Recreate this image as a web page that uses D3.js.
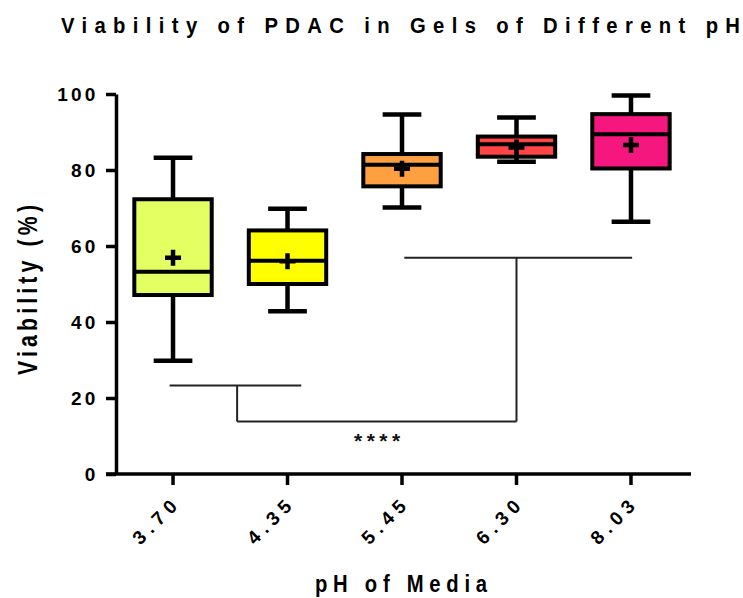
<!DOCTYPE html>
<html>
<head>
<meta charset="utf-8">
<script src="https://cdn.jsdelivr.net/npm/d3@7"></script>
<style>
  html, body { margin: 0; padding: 0; background: #fff; }
  svg { display: block; font-family: "Liberation Sans", Arial, sans-serif; font-weight: bold; }
</style>
</head>
<body>
<svg id="chart" width="743" height="598"></svg>
<script>
// pH groups and their box-plot summaries (viability, %)
const categories = ["3.70", "4.35", "5.45", "6.30", "8.03"];
const whiskerLow  = [29.8, 42.8, 70.1, 82.2, 66.4];
const quartile1   = [47.1, 50.0, 75.7, 83.5, 80.4];
const medians     = [53.2, 56.1, 81.4, 86.8, 89.4];
const quartile3   = [72.3, 64.1, 84.2, 88.8, 94.7];
const whiskerHigh = [83.2, 69.8, 94.6, 93.8, 99.6];
const means       = [56.9, 56.0, 80.3, 85.9, 86.6];
const fills       = ["#E4FF62", "#FFFF00", "#FFA040", "#FF4545", "#F5177E"];
const yTicks      = [0, 20, 40, 60, 80, 100];

// significance bracket: two group bars (positions in category-index units) joined below
const sigBars  = [
  { x0: -0.03, x1: 1.12, drop: 0.56, y: 23.3 },
  { x0: 2.02,  x1: 4.01, drop: 3.0,  y: 56.9 }
];
const sigBridgeY = 13.8;
const sigLabel = "****";

const svg = d3.select("#chart");

const x = d3.scaleBand().domain(categories).range([116, 688])
  .paddingInner(0.324).paddingOuter(0.16);
const y = d3.scaleLinear().domain([0, 100]).range([474, 94]);
const cx = d => x(d) + x.bandwidth() / 2;
const xi = d3.scaleLinear().domain([0, categories.length - 1])
  .range([cx(categories[0]), cx(categories[categories.length - 1])]);

const boxes = categories.map((c, i) => ({
  c, lo: whiskerLow[i], q1: quartile1[i], med: medians[i],
  q3: quartile3[i], hi: whiskerHigh[i], mean: means[i], fill: fills[i]
}));

// axes
const yAxis = svg.append("g").attr("transform", "translate(116,0)")
  .call(d3.axisLeft(y).tickValues(yTicks).tickSize(10).tickSizeOuter(0).tickPadding(0));
yAxis.select(".domain").attr("stroke", "#000").attr("stroke-width", 3.5);
yAxis.selectAll(".tick line").attr("stroke", "#000").attr("stroke-width", 3.5);
yAxis.selectAll(".tick text")
  .attr("x", -17.5).attr("dy", "0.36em")
  .attr("font-size", 19).attr("font-weight", "bold").attr("font-family", "Liberation Sans, Arial, sans-serif")
  .attr("letter-spacing", 3.2).attr("fill", "#000");

const xAxis = svg.append("g").attr("transform", "translate(0,474)")
  .call(d3.axisBottom(x).tickSize(11).tickSizeOuter(0));
xAxis.select(".domain").remove();
xAxis.selectAll(".tick line").attr("stroke", "#000").attr("stroke-width", 3.5);
xAxis.selectAll(".tick text")
  .attr("y", 0).attr("dy", 0)
  .attr("transform", "translate(9,30) rotate(-45)")
  .attr("text-anchor", "end")
  .attr("font-size", 19).attr("font-weight", "bold").attr("font-family", "Liberation Sans, Arial, sans-serif")
  .attr("letter-spacing", 5.5).attr("fill", "#000");
svg.append("line")
  .attr("x1", 106).attr("x2", 691).attr("y1", y(0)).attr("y2", y(0))
  .attr("stroke", "#000").attr("stroke-width", 3.5);

// significance brackets
const sig = svg.append("g").attr("fill", "none").attr("stroke", "#222").attr("stroke-width", 2);
sigBars.forEach(b => {
  sig.append("line").attr("x1", xi(b.x0)).attr("x2", xi(b.x1)).attr("y1", y(b.y)).attr("y2", y(b.y));
  sig.append("line").attr("x1", xi(b.drop)).attr("x2", xi(b.drop)).attr("y1", y(b.y)).attr("y2", y(sigBridgeY));
});
sig.append("line")
  .attr("x1", xi(sigBars[0].drop)).attr("x2", xi(sigBars[1].drop))
  .attr("y1", y(sigBridgeY)).attr("y2", y(sigBridgeY));
svg.append("text")
  .attr("x", (xi(sigBars[0].drop) + xi(sigBars[1].drop)) / 2 + 2.5)
  .attr("y", y(sigBridgeY) + 26)
  .attr("text-anchor", "middle").attr("font-size", 21).attr("font-weight", "bold")
  .attr("letter-spacing", 4.5).attr("fill", "#111").text(sigLabel);

// box plots
const g = svg.append("g").selectAll("g").data(boxes).join("g");
const capW = () => x.bandwidth() / 2;
g.append("line").attr("x1", d => cx(d.c)).attr("x2", d => cx(d.c))
  .attr("y1", d => y(d.hi)).attr("y2", d => y(d.lo))
  .attr("stroke", "#000").attr("stroke-width", 4.5);
g.append("line").attr("x1", d => cx(d.c) - capW() / 2).attr("x2", d => cx(d.c) + capW() / 2)
  .attr("y1", d => y(d.hi)).attr("y2", d => y(d.hi))
  .attr("stroke", "#000").attr("stroke-width", 4.5);
g.append("line").attr("x1", d => cx(d.c) - capW() / 2).attr("x2", d => cx(d.c) + capW() / 2)
  .attr("y1", d => y(d.lo)).attr("y2", d => y(d.lo))
  .attr("stroke", "#000").attr("stroke-width", 4.5);
g.append("rect")
  .attr("x", d => x(d.c)).attr("width", x.bandwidth())
  .attr("y", d => y(d.q3)).attr("height", d => y(d.q1) - y(d.q3))
  .attr("fill", d => d.fill).attr("stroke", "#000").attr("stroke-width", 4);
g.append("line").attr("x1", d => x(d.c)).attr("x2", d => x(d.c) + x.bandwidth())
  .attr("y1", d => y(d.med)).attr("y2", d => y(d.med))
  .attr("stroke", "#000").attr("stroke-width", 4);
// mean marker (+)
const pm = 8;
g.append("path")
  .attr("d", d => `M${cx(d.c) - pm},${y(d.mean)}H${cx(d.c) + pm}M${cx(d.c)},${y(d.mean) - pm}V${y(d.mean) + pm}`)
  .attr("stroke", "#000").attr("stroke-width", 4.5).attr("fill", "none");

// titles: condensed bold lettering, stretched to a fixed span
function condensedText(tx, ty, rot, size, span, sx, str) {
  svg.append("text")
    .attr("transform", `translate(${tx},${ty}) rotate(${rot}) scale(${sx},1)`)
    .attr("x", 0).attr("y", 0)
    .attr("font-size", size).attr("textLength", span / sx).attr("lengthAdjust", "spacing")
    .attr("fill", "#000").text(str);
}
condensedText(61, 33, 0, 22.5, 679, 0.9, "Viability of PDAC in Gels of Different pH");
condensedText(315, 592, 0, 23, 172, 0.88, "pH of Media");
condensedText(37, 375, -90, 28, 170, 0.76, "Viability (%)");
</script>
</body>
</html>
